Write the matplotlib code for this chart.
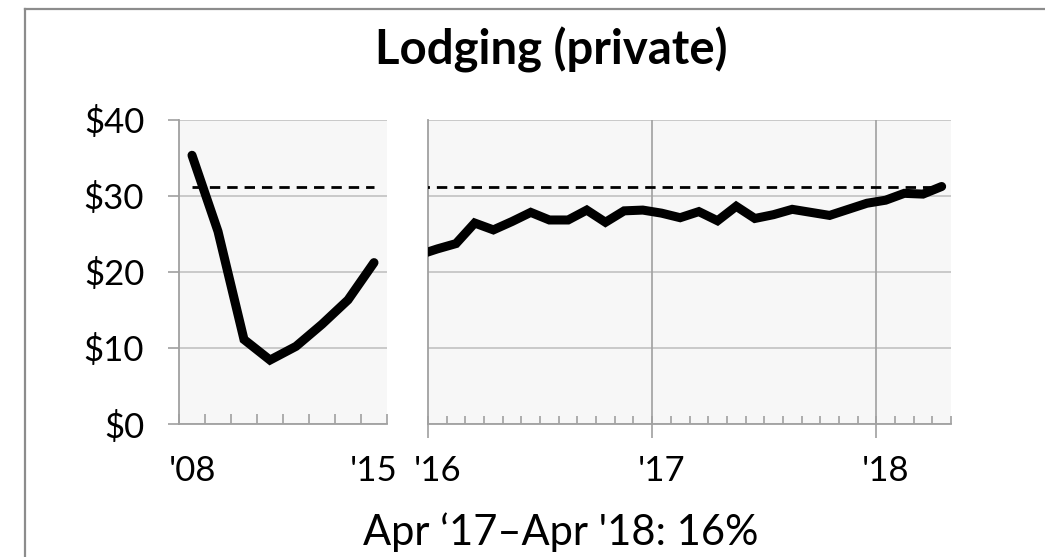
import matplotlib
matplotlib.use("Agg")
import matplotlib.pyplot as plt
from matplotlib.lines import Line2D

plt.rcParams['font.family'] = ['Lato', 'DejaVu Sans']
plt.rcParams['lines.scale_dashes'] = False

# ---- data ----
years_left = [2008, 2009, 2010, 2011, 2012, 2013, 2014, 2015]
values_left = [35.3, 25.3, 11.1, 8.4, 10.2, 13.1, 16.3, 21.2]
left_labels = ["'08", "", "", "", "", "", "", "'15"]

# monthly, Dec '15 .. Apr '18
months_right = ["Dec '15",
                "Jan '16", "Feb '16", "Mar '16", "Apr '16", "May '16", "Jun '16",
                "Jul '16", "Aug '16", "Sep '16", "Oct '16", "Nov '16", "Dec '16",
                "Jan '17", "Feb '17", "Mar '17", "Apr '17", "May '17", "Jun '17",
                "Jul '17", "Aug '17", "Sep '17", "Oct '17", "Nov '17", "Dec '17",
                "Jan '18", "Feb '18", "Mar '18", "Apr '18"]
values_right = [22.2,
                23.0, 23.7, 26.4, 25.5, 26.6, 27.8, 26.8, 26.8, 28.1, 26.5, 28.0, 28.1,
                27.7, 27.1, 27.9, 26.7, 28.6, 27.0, 27.5, 28.2, 27.8, 27.4, 28.2, 29.0,
                29.4, 30.3, 30.2, 31.2]
year_labels_right = ["'16", "'17", "'18"]
reference_level = 31.1
y_ticks = [0, 10, 20, 30, 40]
y_labels = ['$0', '$10', '$20', '$30', '$40']
title = 'Lodging (private)'
subtitle = "Apr \u201817\u2013Apr '18: 16%"

# ---- style ----
W, H = 1045, 557
BG = '#f7f7f7'
GRID = '#c2c2c2'
AX = '#a0a0a0'
LW = 6.5
TICKFS = 25

fig = plt.figure(figsize=(W / 100, H / 100), dpi=100)

def fx(px):
    return px / W

def fy(py):
    return 1 - py / H

bottom = fy(424)
height = fy(119.5) - fy(424)
axL = fig.add_axes([fx(179), bottom, fx(387) - fx(179), height])
axR = fig.add_axes([fx(428), bottom, fx(951) - fx(428), height])

for ax in (axL, axR):
    ax.set_facecolor(BG)
    ax.set_ylim(0, 40)
    for s in ('top', 'right'):
        ax.spines[s].set_visible(False)
    ax.spines['left'].set_color(AX)
    ax.spines['bottom'].set_color(AX)
    ax.spines['left'].set_linewidth(1.3)
    ax.spines['bottom'].set_linewidth(1.3)
    ax.set_yticks(y_ticks)
    ax.yaxis.grid(True, color=GRID, linewidth=1.2)
    ax.set_axisbelow(True)

# ---- left panel ----
xl = list(range(len(years_left)))
axL.set_xlim(-0.5, len(years_left) - 0.5)
axL.plot(xl, values_left, color='black', linewidth=LW,
         solid_joinstyle='miter', solid_capstyle='round', zorder=4)
axL.plot(xl, [reference_level] * len(xl), color='black', linewidth=2.0,
         dashes=(7.5, 5), zorder=3)
axL.set_xticks(xl, left_labels, fontsize=TICKFS)
axL.set_xticks([i - 0.5 for i in range(len(years_left) + 1)], minor=True)
axL.tick_params(axis='x', which='major', length=0, pad=22)
axL.tick_params(axis='x', which='minor', direction='in', length=7.5,
                color=AX, width=1.2)
axL.set_yticklabels(y_labels, fontsize=TICKFS)
axL.tick_params(axis='y', direction='out', length=8, color=AX, width=1.2, pad=17)

# ---- right panel ----
xr = [i - 0.5 for i in range(len(months_right))]
n_months = len(months_right) - 1
axR.set_xlim(0, n_months)
axR.plot(xr, values_right, color='black', linewidth=LW,
         solid_joinstyle='miter', solid_capstyle='round', zorder=4)
axR.plot(xr, [reference_level] * len(xr), color='black', linewidth=2.0,
         dashes=(7.5, 5), zorder=3)
year_starts = list(range(0, n_months, 12))
axR.set_xticks([s + 0.5 for s in year_starts], year_labels_right, fontsize=TICKFS)
axR.set_xticks(list(range(0, n_months + 1)), minor=True)
axR.tick_params(axis='x', which='major', length=0, pad=22)
axR.tick_params(axis='x', which='minor', direction='in', length=6,
                color=AX, width=1.2)
axR.tick_params(axis='y', length=0, labelleft=False)
for s in year_starts[1:]:
    axR.axvline(s, color=AX, linewidth=1.2, zorder=1)
sec = axR.secondary_xaxis('bottom')
sec.set_xticks(year_starts, [''] * len(year_starts))
sec.tick_params(axis='x', direction='out', length=10, color=AX, width=1.2)
sec.spines['bottom'].set_visible(False)

# ---- texts ----
fig.text(fx(551), fy(50), title, ha='center', va='center',
         fontsize=34, fontweight='bold')
fig.text(fx(561), fy(532), subtitle, ha='center', va='center', fontsize=30)

# ---- outer border ----
fig.add_artist(Line2D([fx(25), fx(25)], [fy(9), 0], color='#8c8c8c', linewidth=1.6,
                      transform=fig.transFigure))
fig.add_artist(Line2D([fx(25), 1], [fy(9), fy(9)], color='#8c8c8c', linewidth=1.6,
                      transform=fig.transFigure))

fig.savefig('out.png', dpi=100)
